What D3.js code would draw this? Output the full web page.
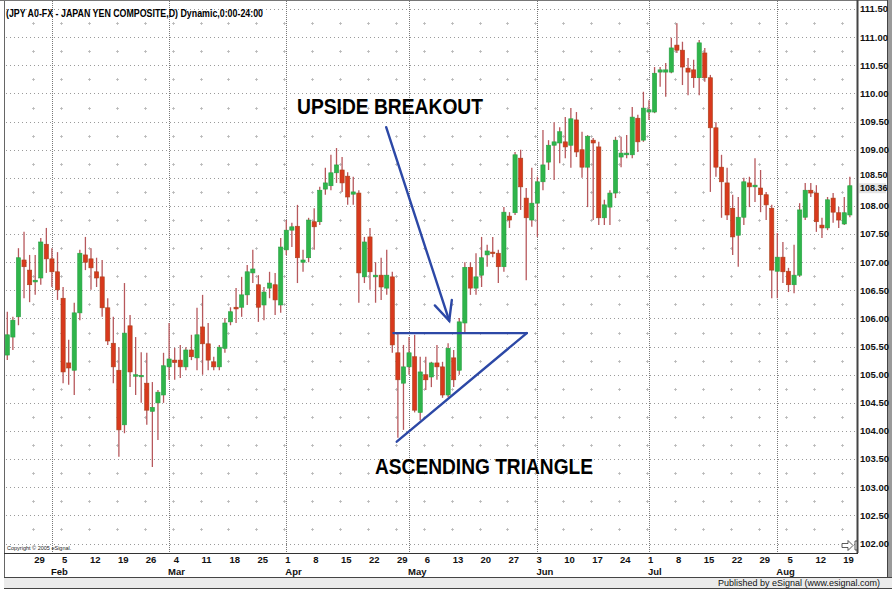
<!DOCTYPE html>
<html>
<head>
<meta charset="utf-8">
<script src="https://cdn.jsdelivr.net/npm/d3@7"></script>
<style>
  body { margin: 0; background: #fff; }
  svg { display: block; font-family: "Liberation Sans", Arial, sans-serif; }
</style>
</head>
<body>
<svg id="chart" width="892" height="589"></svg>
<script>
// daily candles (index 0 = first bar on the left)
const opens = [105.35,105.67,106.03,107.04,106.86,106.65,106.72,107.32,107.06,106.83,
  106.36,105.21,105.08,106.10,107.13,107.06,106.83,106.74,106.19,105.56,
  105.08,104.11,105.87,104.98,104.97,104.85,104.35,104.50,104.64,105.14,
  105.26,105.26,105.14,105.44,105.30,105.85,105.55,105.23,105.14,105.47,
  105.94,106.20,106.20,106.42,106.81,106.60,106.24,106.54,106.60,106.24,
  107.22,107.57,107.64,107.00,107.08,107.72,107.72,108.30,108.36,108.59,
  108.64,108.53,108.21,108.23,106.74,107.45,106.74,106.77,106.54,106.74,
  105.39,104.85,105.14,105.32,104.33,105.00,104.96,105.21,105.14,104.64,
  105.30,105.08,105.92,106.91,106.54,106.77,107.13,107.18,107.16,106.92,
  107.82,107.88,108.85,108.14,107.75,108.05,108.43,108.78,109.08,109.12,
  109.14,109.08,109.53,109.00,108.69,109.17,109.05,107.79,107.98,108.23,
  108.87,108.91,108.91,109.56,109.17,109.67,109.67,110.38,110.38,110.38,
  110.86,110.77,110.45,110.42,110.28,110.72,110.28,109.39,108.69,108.41,
  107.96,107.48,107.80,108.41,108.34,108.32,108.20,107.96,106.84,107.09,
  106.84,106.60,106.77,107.80,108.28,108.23,107.66,107.61,108.14,107.88,
  107.68,107.84];
const highs = [106.12,106.03,107.25,107.54,107.13,107.13,107.43,107.61,107.25,107.18,
  106.56,105.62,106.28,107.22,107.45,107.25,107.08,107.04,106.36,106.03,
  105.49,106.63,106.06,105.67,105.40,105.39,104.87,104.73,105.39,105.92,
  105.48,105.53,105.49,105.71,106.19,106.42,105.92,105.32,105.53,106.01,
  106.20,106.54,106.74,106.95,107.22,106.77,106.56,106.83,106.81,107.43,
  107.75,107.70,108.02,107.22,107.79,107.96,108.34,108.68,108.91,109.03,
  108.87,108.60,108.52,108.28,107.45,107.61,107.00,107.08,107.22,106.83,
  105.74,105.53,105.67,105.71,105.32,105.32,105.23,105.53,105.23,105.56,
  105.44,106.01,107.00,107.00,107.16,107.45,107.31,107.45,107.22,107.98,
  107.89,108.96,109.00,108.32,108.68,108.52,109.35,109.17,109.49,109.40,
  109.58,109.74,109.67,109.32,109.26,109.21,109.14,108.11,108.28,109.23,
  109.23,109.26,109.76,109.62,110.03,109.88,110.47,110.47,110.54,110.99,
  111.25,110.92,110.63,110.60,110.95,110.81,110.33,109.49,108.91,108.68,
  108.20,108.16,108.50,108.52,108.85,108.64,108.25,108.02,107.52,107.36,
  106.90,107.31,108.05,108.41,108.41,108.37,107.79,108.16,108.23,107.98,
  108.16,108.52];
const lows = [105.26,105.44,105.88,106.36,106.29,106.42,106.60,106.81,106.56,106.33,
  104.85,104.82,104.64,105.97,106.86,106.51,106.56,106.03,105.53,104.85,
  103.54,103.96,104.78,104.64,104.50,104.11,103.36,103.84,104.50,104.91,
  104.91,104.94,105.08,105.26,105.08,105.00,105.08,105.08,105.08,105.39,
  105.88,105.92,106.03,106.24,106.63,105.94,105.97,106.36,106.06,106.10,
  107.13,107.27,106.63,106.83,107.00,107.22,107.66,108.20,108.28,108.41,
  108.25,108.02,108.02,106.28,106.63,106.51,106.28,106.33,106.42,105.39,
  103.88,104.02,105.00,104.33,104.19,104.73,104.78,104.91,104.59,104.60,
  104.78,105.00,105.76,106.42,106.42,106.56,106.92,107.09,106.63,106.83,
  107.61,107.84,107.93,106.68,107.63,107.45,108.28,108.64,108.46,108.76,
  108.85,108.68,108.87,108.50,107.98,107.75,107.66,107.66,107.66,108.14,
  108.69,108.85,108.85,108.96,109.14,109.53,109.65,110.12,109.94,110.36,
  110.72,110.15,109.97,110.10,109.97,110.21,108.25,108.52,107.79,107.75,
  107.13,106.92,107.66,107.98,108.07,107.89,107.75,106.36,106.36,106.63,
  106.47,106.45,106.74,107.75,108.16,107.54,107.43,107.57,107.70,107.61,
  107.66,107.80];
const closes = [105.71,105.97,107.08,106.92,106.60,106.68,107.36,107.06,106.83,106.51,
  105.05,105.12,106.10,107.16,107.00,106.90,106.72,106.19,105.60,105.14,
  104.02,105.74,105.05,105.00,104.99,104.37,104.42,104.69,105.16,105.28,
  105.22,105.14,105.44,105.32,105.71,105.55,105.26,105.14,105.49,105.92,
  106.12,106.17,106.42,106.83,106.88,106.20,106.47,106.63,106.33,107.27,
  107.57,107.63,107.08,107.04,107.75,107.63,108.28,108.41,108.59,108.73,
  108.41,108.16,108.25,106.81,107.36,106.83,106.77,106.56,106.77,105.53,
  104.91,105.14,105.39,104.37,105.05,104.91,105.21,105.14,104.64,105.47,
  104.91,105.94,106.91,106.54,106.74,107.08,107.20,107.16,106.92,107.89,
  107.75,108.91,108.34,107.79,108.05,108.43,108.73,109.08,109.14,109.32,
  109.05,109.55,108.96,108.69,109.24,109.12,107.79,108.02,108.23,109.17,
  108.94,108.94,109.58,109.14,109.74,109.71,110.36,110.42,110.42,110.81,
  110.77,110.47,110.38,110.28,110.90,110.28,109.39,108.69,108.43,107.84,
  107.45,107.80,108.43,108.34,108.37,108.20,108.02,106.86,107.09,106.83,
  106.60,106.77,107.93,108.28,108.23,107.72,107.61,108.11,107.89,107.75,
  107.88,108.36];

// axis labels
const weekLabels = ["29","5","12","19","26","4","11","18","25","1","8","15","22","29","6",
  "13","20","27","3","10","17","24","1","8","15","22","29","5","12","19"];
const firstWeekBar = 5;          // bar index of the first weekly tick
const barsPerWeek = 5;
const monthNames = ["Feb","Mar","Apr","May","Jun","Jul","Aug"];
const monthStartBars = [8, 29, 50, 72, 95, 115, 138];
const priceMin = 102, priceMax = 111.5, priceStep = 0.5;
const lastPrice = 108.36;

// annotations, in [bar index, price]
const triangleTop  = [[69.2, 105.74], [93.1, 105.74]];
const triangleBase = [[69.8, 103.81], [93.1, 105.74]];
const breakoutArrow = [[67.9, 109.40], [79.2, 105.96]];

const svg = d3.select("#chart");
const W = 892, H = 589;
const plotLeft = 4, plotRight = 857, plotTop = 1, plotBottom = 553;

const x = d3.scaleLinear().domain([-0.59, 152.28]).range([plotLeft, plotRight]);
const y = d3.scaleLinear().domain([priceMin, priceMax]).range([543.5, 9.1]);

svg.append("rect").attr("width", W).attr("height", H).attr("fill", "#fff");

// ---- grid ----
const grid = svg.append("g");
const majors = d3.range(priceMin, priceMax + 0.001, priceStep);
const minors = d3.range(priceMin - 0.25, priceMax + 0.3, priceStep);
const weekBars = weekLabels.map((d, i) => firstWeekBar + i * barsPerWeek);

grid.selectAll("line.maj").data(majors).join("line")
  .attr("x1", plotLeft + 2).attr("x2", plotRight - 1)
  .attr("y1", d => Math.round(y(d)) + 0.5).attr("y2", d => Math.round(y(d)) + 0.5)
  .attr("stroke", "#9a9a9a").attr("stroke-dasharray", "1,3");

const crosses = [];
weekBars.forEach(b => minors.forEach(v => {
  if (y(v) > plotTop + 3 && y(v) < plotBottom - 3) crosses.push([b, v]);
}));
grid.selectAll("path.cross").data(crosses).join("path")
  .attr("d", d => {
    const cx = Math.round(x(d[0]) - 2) + 0.5, cy = Math.round(y(d[1])) + 0.5;
    return `M${cx - 1.5},${cy}H${cx + 1.5}M${cx},${cy - 1.5}V${cy + 1.5}`;
  })
  .attr("stroke", "#b5b5b5").attr("stroke-width", 0.8);

grid.selectAll("line.month").data(monthStartBars).join("line")
  .attr("x1", d => Math.round(x(d)) + 0.5).attr("x2", d => Math.round(x(d)) + 0.5)
  .attr("y1", plotTop).attr("y2", plotBottom)
  .attr("stroke", "#777").attr("stroke-dasharray", "1,1");

// ---- candles ----
const bars = d3.range(opens.length).map(i => ({
  i, o: opens[i], h: highs[i], l: lows[i], c: closes[i]
}));
const candle = svg.append("g").selectAll("g").data(bars).join("g");
candle.append("line")
  .attr("x1", d => x(d.i)).attr("x2", d => x(d.i))
  .attr("y1", d => y(d.h)).attr("y2", d => y(d.l))
  .attr("stroke", "#b7585c").attr("stroke-width", 1.3);
candle.append("rect")
  .attr("x", d => x(d.i) - 2.1).attr("width", 4.2)
  .attr("y", d => y(Math.max(d.o, d.c)))
  .attr("height", d => Math.max(1.5, Math.abs(y(d.o) - y(d.c))))
  .attr("fill", d => d.c >= d.o ? "#2fb54b" : "#d8391d")
  .attr("stroke", d => d.c >= d.o ? "#28a043" : "#a8431c")
  .attr("stroke-width", 0.6);

// ---- annotations ----
const blue = "#2c48a6";
const ann = svg.append("g").attr("stroke", blue).attr("stroke-width", 2.4)
  .attr("fill", "none").attr("stroke-linecap", "round");
const line = d3.line().x(d => x(d[0])).y(d => y(d[1]));
ann.append("path").attr("d", line(triangleTop));
ann.append("path").attr("d", line(triangleBase));
ann.append("path").attr("d", line(breakoutArrow));
{
  const [a, b] = breakoutArrow;
  const tx = x(b[0]), ty = y(b[1]);
  const ang = Math.atan2(y(a[1]) - ty, x(a[0]) - tx);
  const len = 21, spread = 0.44;
  ann.append("path").attr("d",
    `M${tx + len * Math.cos(ang - spread)},${ty + len * Math.sin(ang - spread)}` +
    `L${tx},${ty}L${tx + len * Math.cos(ang + spread)},${ty + len * Math.sin(ang + spread)}`);
}

svg.append("text").attr("x", 297).attr("y", 114)
  .attr("font-size", 22).attr("font-weight", "bold")
  .attr("textLength", 186).attr("lengthAdjust", "spacingAndGlyphs")
  .text("UPSIDE BREAKOUT");
svg.append("text").attr("x", 375).attr("y", 474)
  .attr("font-size", 22).attr("font-weight", "bold")
  .attr("textLength", 218).attr("lengthAdjust", "spacingAndGlyphs")
  .text("ASCENDING TRIANGLE");

// ---- frame ----
svg.append("line").attr("x1", plotLeft + 0.5).attr("x2", plotLeft + 0.5).attr("y1", 0).attr("y2", 588)
  .attr("stroke", "#666");
svg.append("line").attr("x1", 0).attr("x2", W).attr("y1", 0.5).attr("y2", 0.5)
  .attr("stroke", "#777");
svg.append("line").attr("x1", plotRight + 0.5).attr("x2", plotRight + 0.5).attr("y1", 0).attr("y2", plotBottom)
  .attr("stroke", "#444").attr("stroke-width", 2);
svg.append("line").attr("x1", plotLeft).attr("x2", plotRight + 1).attr("y1", plotBottom + 0.5).attr("y2", plotBottom + 0.5)
  .attr("stroke", "#333");
svg.append("rect").attr("x", 887).attr("y", 0).attr("width", 5).attr("height", 577)
  .attr("fill", "#9a9a9a");
svg.append("line").attr("x1", 887.5).attr("x2", 887.5).attr("y1", 0).attr("y2", 577)
  .attr("stroke", "#444");

// bottom status bar
svg.append("rect").attr("x", plotLeft).attr("y", 577).attr("width", W - plotLeft).attr("height", 11)
  .attr("fill", "#ebebeb");
svg.append("line").attr("x1", plotLeft).attr("x2", W).attr("y1", 577.5).attr("y2", 577.5)
  .attr("stroke", "#444");
svg.append("line").attr("x1", plotLeft).attr("x2", W).attr("y1", 588.5).attr("y2", 588.5)
  .attr("stroke", "#444");
svg.append("text").attr("x", 880).attr("y", 586).attr("text-anchor", "end")
  .attr("font-size", 9).attr("fill", "#111")
  .text("Published by eSignal (www.esignal.com)");

// ---- texts ----
svg.append("text").attr("x", 6).attr("y", 17)
  .attr("font-size", 10.5).attr("font-weight", "bold")
  .attr("textLength", 257).attr("lengthAdjust", "spacingAndGlyphs")
  .text("(JPY A0-FX - JAPAN YEN COMPOSITE,D) Dynamic,0:00-24:00");

svg.append("text").attr("x", 7).attr("y", 550)
  .attr("font-size", 5.5).attr("fill", "#222")
  .text("Copyright \u00a9 2005 eSignal.");

// price axis; the 108.50 label and the last-price tag sit tight together,
// so nudge them apart a little
const pa = svg.append("g").attr("font-size", 9.5).attr("font-weight", "bold").attr("fill", "#111");
const nudge = v => (Math.abs(v - lastPrice) < 0.2 ? (v > lastPrice ? -3 : 3) : 0);
pa.selectAll("text").data(majors).join("text")
  .attr("x", 860).attr("y", d => y(d) + nudge(d)).attr("dy", "0.35em")
  .attr("font-size", d => nudge(d) ? 9 : null)
  .text(d => d.toFixed(2));
pa.append("rect").attr("x", 859).attr("y", y(lastPrice) + 2.5 - 5).attr("width", 27).attr("height", 10)
  .attr("fill", "#e4e4e4");
pa.append("text").attr("x", 860).attr("y", y(lastPrice) + 2.5).attr("dy", "0.35em")
  .attr("font-size", 9)
  .text(lastPrice.toFixed(2));

// time axis
const ta = svg.append("g").attr("font-size", 9.5).attr("font-weight", "bold").attr("fill", "#111");
ta.selectAll("text.wk").data(weekLabels).join("text")
  .attr("x", (d, i) => x(weekBars[i]) - 1).attr("y", 563)
  .text(d => d);
ta.selectAll("text.mo").data(monthNames).join("text")
  .attr("x", (d, i) => x(monthStartBars[i]) - 1).attr("y", 575)
  .text(d => d);

// little scroll arrow in the corner
svg.append("path")
  .attr("d", "M842,543.5h6v-3l5,5l-5,5v-3h-6z M855,541v9 M855,541h2 M855,550h2")
  .attr("fill", "#fff").attr("stroke", "#333").attr("stroke-width", 0.8);
</script>
</body>
</html>
